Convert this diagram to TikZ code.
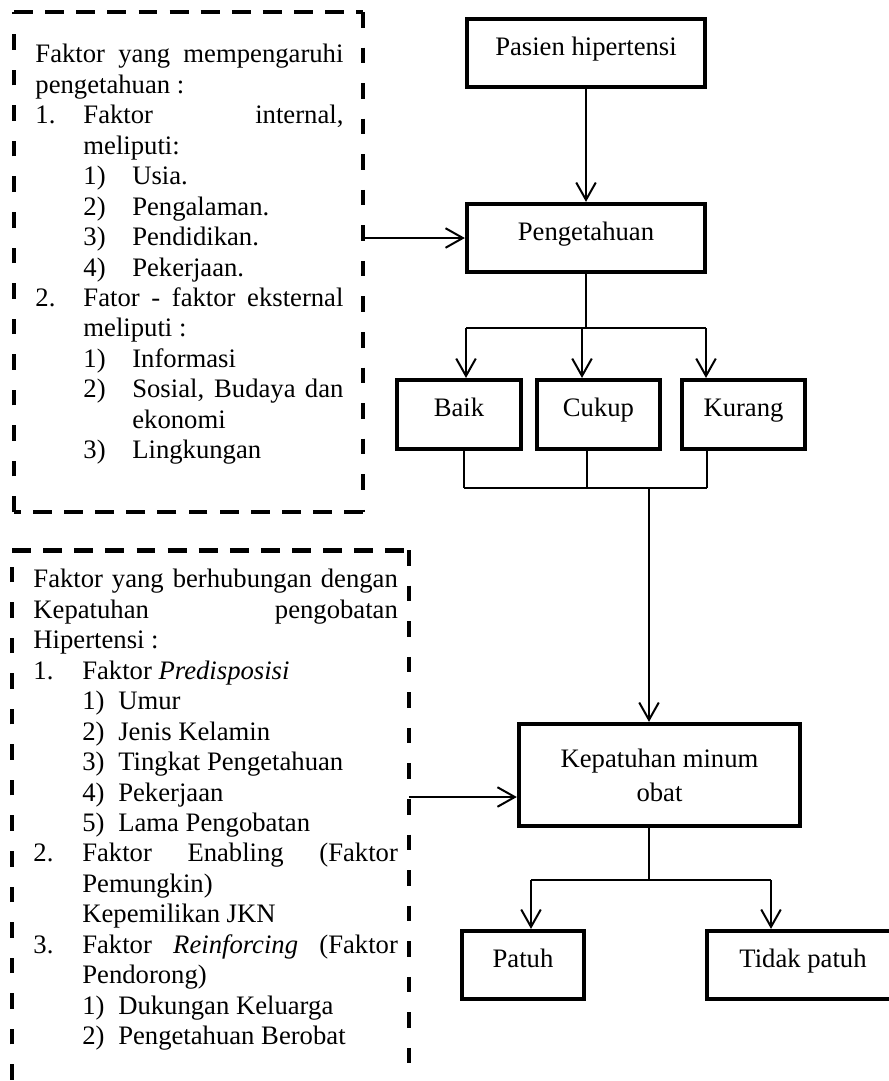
\documentclass[tikz,border=0pt]{standalone}
\usepackage{fontspec}
\setmainfont{Liberation Serif}
\usetikzlibrary{arrows.meta}

\newlength{\indsatu}
\newlength{\inddua}
\newcommand{\butir}[2]{\par\leftskip=0pt\hangindent=\indsatu\hangafter=1\noindent\makebox[\indsatu][l]{#1}#2}
\newcommand{\subbutir}[2]{\par\leftskip=\indsatu\hangindent=\inddua\hangafter=1\noindent\makebox[\inddua][l]{#1}#2}
\newcommand{\lanjut}[1]{\par\leftskip=\indsatu\hangindent=0pt\noindent #1}

\tikzset{
  every node/.style={font=\fontsize{12pt}{13.7pt}\selectfont},
  kotak/.style={draw, line width=1.9pt, inner sep=0pt, align=center},
  kotaksatu/.style={kotak, text height=6pt, text depth=4.2pt},
  garis/.style={line width=0.9pt},
  panah/.style={line width=0.9pt, -{Straight Barb[length=7.8pt,width=8.8pt]}},
  putusdatar/.style={line width=2.2pt, dash pattern=on 8.5pt off 5.5pt},
  putustegak/.style={line width=2.2pt, dash pattern=on 7pt off 9pt},
  teks/.style={inner sep=0pt, anchor=north west, align=justify}
}

\begin{document}
\begin{tikzpicture}[x=0.45pt, y=-0.45pt]
    \useasboundingbox (0,0) rectangle (889,1081);

    % kotak faktor, garis putus-putus
    \node[inner sep=0pt, minimum width=156.6pt, minimum height=224.6pt] (faktor1) at (188.5,262) {};
    \node[inner sep=0pt, minimum width=178.2pt, minimum height=254pt] (faktor2) at (210.5,832.75) {};
    \draw[putusdatar] (faktor1.north west) -- (faktor1.north east);
    \draw[putustegak] (faktor1.north east) -- (faktor1.south east);
    \draw[putusdatar] (faktor1.south east) -- (faktor1.south west);
    \draw[putustegak] (faktor1.south west) -- (faktor1.north west);
    \draw[putusdatar] (faktor2.north west) -- (faktor2.north east);
    \draw[putustegak] (faktor2.north east) -- (faktor2.south east);
    \draw[putustegak] (faktor2.south west) -- (faktor2.north west);

    \node[teks, text width=138.6pt] (isi1) at (35,44) {%
      \parindent=0pt \rightskip=0pt \parfillskip=0pt plus 1fil
      \tolerance=10000 \hyphenpenalty=10000
      \indsatu=21.6pt \inddua=22pt
      Faktor yang mempengaruhi pengetahuan~:
      \butir{1.}{Faktor internal, meliputi:}
      \subbutir{1)}{Usia.}
      \subbutir{2)}{Pengalaman.}
      \subbutir{3)}{Pendidikan.}
      \subbutir{4)}{Pekerjaan.}
      \butir{2.}{Fator - faktor eksternal meliputi~:}
      \subbutir{1)}{Informasi}
      \subbutir{2)}{Sosial, Budaya dan ekonomi}
      \subbutir{3)}{Lingkungan}\par};

    \node[teks, text width=164pt] (isi2) at (33,569) {%
      \parindent=0pt \rightskip=0pt \parfillskip=0pt plus 1fil
      \tolerance=10000 \hyphenpenalty=10000
      \indsatu=22pt \inddua=16.2pt
      Faktor yang berhubungan dengan Kepatuhan pengobatan Hipertensi~:
      \butir{1.}{Faktor \textit{Predisposisi}}
      \subbutir{1)}{Umur}
      \subbutir{2)}{Jenis Kelamin}
      \subbutir{3)}{Tingkat Pengetahuan}
      \subbutir{4)}{Pekerjaan}
      \subbutir{5)}{Lama Pengobatan}
      \butir{2.}{Faktor Enabling (Faktor Pemungkin)}
      \lanjut{Kepemilikan JKN}
      \butir{3.}{Faktor \textit{Reinforcing} (Faktor Pendorong)}
      \subbutir{1)}{Dukungan Keluarga}
      \subbutir{2)}{Pengetahuan Berobat}\par};

    % alur utama
    \node[kotaksatu, minimum width=107.1pt, minimum height=30.6pt] (pasien) at (586,53) {Pasien hipertensi};
    \node[kotaksatu, minimum width=107.1pt, minimum height=30.6pt] (pengetahuan) at (586,238) {Pengetahuan};
    \node[kotaksatu, minimum width=55.8pt, minimum height=31pt] (baik) at (459,414.5) {Baik};
    \node[kotaksatu, minimum width=55.4pt, minimum height=31pt] (cukup) at (598.5,414.5) {Cukup};
    \node[kotaksatu, minimum width=55.4pt, minimum height=31pt] (kurang) at (743.5,414.5) {Kurang};
    \node[kotak, minimum width=126.5pt, minimum height=45.9pt,
          font=\fontsize{12pt}{15.3pt}\selectfont] (kepatuhan) at (659.5,775) {Kepatuhan minum\\obat};
    \node[kotaksatu, minimum width=54.9pt, minimum height=30.6pt] (patuh) at (523,965) {Patuh};
    \node[kotaksatu, minimum width=86.4pt, minimum height=30.6pt] (tidakpatuh) at (803,965) {Tidak patuh};

    % titik cabang
    \coordinate (kiriatas) at (466,328);
    \coordinate (tengahatas) at (582,328);
    \coordinate (kananatas) at (706,328);
    \coordinate (kiribawah) at (464,488);
    \coordinate (tengahbawah) at (587,488);
    \coordinate (kananbawah) at (707,488);
    \coordinate (gabung) at (649,488);
    \coordinate (pisah) at (649,880);
    \coordinate (kiripisah) at (531,880);
    \coordinate (kananpisah) at (771,880);

    \draw[panah] (pasien) -- (pengetahuan);
    \draw[panah] (faktor1.east |- pengetahuan.west) -- (pengetahuan.west);
    \draw[garis] (pengetahuan.south) -- (pengetahuan.south |- kiriatas);
    \draw[garis] (kiriatas) -- (kananatas);
    \draw[panah] (kiriatas) -- (kiriatas |- baik.north);
    \draw[panah] (tengahatas) -- (tengahatas |- cukup.north);
    \draw[panah] (kananatas) -- (kananatas |- kurang.north);

    \draw[garis] (kiribawah |- baik.south) -- (kiribawah);
    \draw[garis] (tengahbawah |- cukup.south) -- (tengahbawah);
    \draw[garis] (kananbawah |- kurang.south) -- (kananbawah);
    \draw[garis] (kiribawah) -- (kananbawah);
    \draw[panah] (gabung) -- (gabung |- kepatuhan.north);

    \draw[panah] (faktor2.east |- 0,797) -- (kepatuhan.west |- 0,797);
    \draw[garis] (pisah |- kepatuhan.south) -- (pisah);
    \draw[garis] (kiripisah) -- (kananpisah);
    \draw[panah] (kiripisah) -- (kiripisah |- patuh.north);
    \draw[panah] (kananpisah) -- (kananpisah |- tidakpatuh.north);
\end{tikzpicture}
\end{document}
